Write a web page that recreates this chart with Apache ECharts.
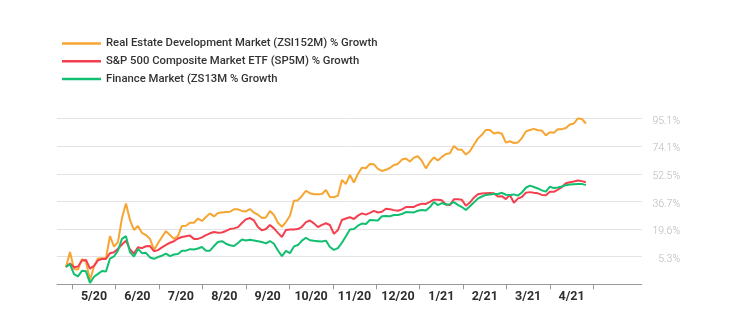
<!DOCTYPE html>
<html>
<head>
<meta charset="utf-8">
<script src="https://cdn.jsdelivr.net/npm/echarts@6/dist/echarts.min.js"></script>
<style>
html,body{margin:0;padding:0;background:#fff;}
#chart{width:750px;height:332px;}
</style>
</head>
<body>
<div id="chart"></div>
<script>
// Month labels (one per month band)
const monthLabels = ['5/20','6/20','7/20','8/20','9/20','10/20','11/20','12/20','1/21','2/21','3/21','4/21'];
// Right-axis tick labels (% growth); baseline below first tick is unlabeled
const yTickLabels = [5.3, 19.6, 36.7, 52.5, 74.1, 95.1];
const yBaseline = -9.0;

const seriesNames = [
  'Real Estate Development Market (ZSI152M) % Growth',
  'S&P 500 Composite Market ETF (SP5M) % Growth',
  'Finance Market (ZS13M % Growth'
];

// % growth, sampled roughly every ~3 days from late April 2020
const realEstate = [0.0,7.7,-1.1,-1.3,4.1,2.6,-6.8,0.2,4.4,4.5,
  4.5,16.0,10.5,12.9,26.4,35.4,25.2,19.1,21.5,17.6,
  16.5,14.5,8.8,12.2,15.5,18.5,16.5,14.5,16.0,21.5,
  21.6,23.5,23.5,26.1,24.6,27.0,29.3,27.4,29.5,29.8,
  30.1,30.3,31.8,31.8,30.8,30.5,32.0,29.8,28.5,26.4,
  26.7,30.8,28.3,23.5,21.0,23.9,27.8,37.1,37.4,39.8,
  42.8,41.4,40.8,40.8,40.9,43.2,39.2,39.1,40.0,48.9,
  46.7,51.8,47.5,52.4,57.3,56.8,60.2,59.9,56.3,54.7,
  55.6,57.0,59.4,60.2,63.6,64.4,62.1,65.1,66.2,62.5,
  56.7,61.7,65.3,62.8,65.7,68.0,68.6,74.3,71.4,71.2,
  67.5,70.1,75.1,79.8,82.7,86.4,86.4,83.7,84.4,83.5,
  76.8,77.8,76.5,76.8,80.2,85.3,86.4,87.2,86.2,85.9,
  82.2,84.6,84.3,86.9,87.0,87.9,90.5,91.3,95.2,94.7,91.3];

const sp500 = [0.0,1.8,-0.2,0.2,3.3,3.6,-0.9,0.5,3.4,4.1,
  4.1,7.1,7.6,9.4,11.6,13.6,9.0,6.9,10.2,9.7,
  10.7,10.8,8.1,8.7,10.1,11.4,12.5,13.3,14.7,15.5,
  15.9,16.2,14.5,14.5,15.3,16.4,17.4,18.1,17.7,17.8,
  18.6,19.6,20.0,20.8,23.3,25.6,26.4,24.9,20.8,18.9,
  19.6,22.1,20.0,17.6,15.5,19.1,19.3,19.4,19.6,21.0,
  23.9,24.9,23.1,20.8,22.2,23.2,22.1,17.1,19.1,25.2,
  26.1,26.9,25.8,27.9,29.3,28.5,29.6,30.8,29.8,30.3,
  32.2,31.9,31.3,30.9,31.8,33.2,33.3,33.3,34.5,35.3,
  35.1,36.4,37.7,37.7,37.3,34.8,34.4,37.9,37.9,37.6,
  34.0,36.0,38.8,40.8,41.2,41.4,41.5,41.3,39.5,39.7,
  38.0,40.4,35.9,38.3,39.2,41.7,42.0,41.6,41.3,40.4,
  40.2,42.2,42.2,43.4,44.9,47.1,47.7,48.1,48.7,48.3,47.7];

const finance = [0.0,1.5,-3.7,-4.9,-2.0,-2.3,-8.3,-5.1,-3.6,-2.1,
  -2.4,4.3,5.4,8.5,14.5,15.9,7.7,5.4,9.3,7.1,
  7.3,4.9,4.2,5.1,5.8,6.9,5.6,6.4,6.7,8.4,
  8.4,9.2,9.0,9.5,10.3,8.4,8.4,10.8,12.9,13.3,
  12.0,11.2,10.8,12.4,14.2,13.7,14.0,13.7,13.3,12.9,
  12.2,13.4,12.0,8.5,5.6,8.3,7.1,10.6,11.3,13.6,
  15.1,13.8,13.5,13.3,13.1,13.6,10.3,8.8,9.7,12.5,
  15.9,19.4,19.6,21.7,23.0,22.7,25.2,25.1,24.9,27.5,
  27.7,27.5,28.3,28.3,28.9,30.1,30.0,29.9,30.9,31.4,
  31.1,33.2,36.3,34.4,35.7,34.8,35.0,36.2,34.6,33.2,
  31.4,33.7,36.0,38.3,39.5,40.4,40.7,40.9,40.9,41.6,
  40.5,40.4,40.7,40.0,41.8,44.5,45.7,44.9,44.1,43.0,
  42.3,45.1,44.3,44.6,45.2,46.0,46.3,46.5,46.7,46.7,46.0];

// Sampling on the month axis (month 0 = start of May 2020)
const firstSampleMonth = -0.145;
const sampleStepMonth = 0.0921;

const colors = ['#F7A531', '#F43F4E', '#12BF70'];

// Map % growth onto the evenly spaced tick scale used by the reference axis
const tickVals = [yBaseline].concat(yTickLabels);
function toAxis(v) {
  for (let k = 0; k < tickVals.length - 1; k++) {
    if (v <= tickVals[k + 1] || k === tickVals.length - 2) {
      return k + (v - tickVals[k]) / (tickVals[k + 1] - tickVals[k]);
    }
  }
}
function build(arr) {
  return arr.map((v, i) => [firstSampleMonth + i * sampleStepMonth, toAxis(v), v]);
}

const chart = echarts.init(document.getElementById('chart'), null, {renderer: 'canvas'});
const option = {
  animation: false,
  backgroundColor: '#fff',
  color: colors,
  legend: {
    orient: 'vertical',
    left: 57,
    top: 31.5,
    icon: 'rect',
    itemWidth: 39,
    itemHeight: 2.5,
    itemGap: 3.7,
    itemTextGap: 8,
    textStyle: {fontFamily: 'Roboto', fontSize: 11.3, fontWeight: 500, color: '#333', lineHeight: 14},
    data: seriesNames
  },
  grid: {left: 57, right: 108.3, top: 118.5, bottom: 47.7},
  xAxis: {
    type: 'value',
    min: -0.352,
    max: 13.114,
    splitLine: {show: false},
    axisLine: {show: true, lineStyle: {color: '#999', width: 1}},
    axisTick: {show: true, length: 5, lineStyle: {color: '#999'}, customValues: [0,1,2,3,4,5,6,7,8,9,10,11,12]},
    axisLabel: {
      customValues: monthLabels.map((_, i) => i + 0.5),
      formatter: v => monthLabels[Math.floor(v)] || '',
      margin: 6,
      fontFamily: 'Roboto', fontSize: 12.5, fontWeight: 700, color: '#2e2e2e'
    }
  },
  yAxis: {
    type: 'value',
    position: 'right',
    min: 0,
    max: yTickLabels.length,
    interval: 1,
    axisLine: {show: false},
    axisTick: {show: false},
    splitLine: {show: true, lineStyle: {color: '#e3e3e3', width: 1}},
    axisLabel: {
      formatter: v => (v >= 1 && v <= yTickLabels.length) ? yTickLabels[Math.round(v) - 1].toFixed(1) + '%' : '',
      align: 'right',
      verticalAlign: 'top',
      lineHeight: 5,
      margin: 38.5,
      fontFamily: 'Roboto', fontSize: 10.5, fontWeight: 300, color: '#b8b8b8'
    }
  },
  series: [realEstate, sp500, finance].map((arr, i) => ({
    name: seriesNames[i],
    type: 'line',
    data: build(arr),
    symbol: 'none',
    clip: false,
    lineStyle: {width: 2, color: colors[i]},
    itemStyle: {color: colors[i]}
  }))
};
chart.setOption(option);
</script>
</body>
</html>
